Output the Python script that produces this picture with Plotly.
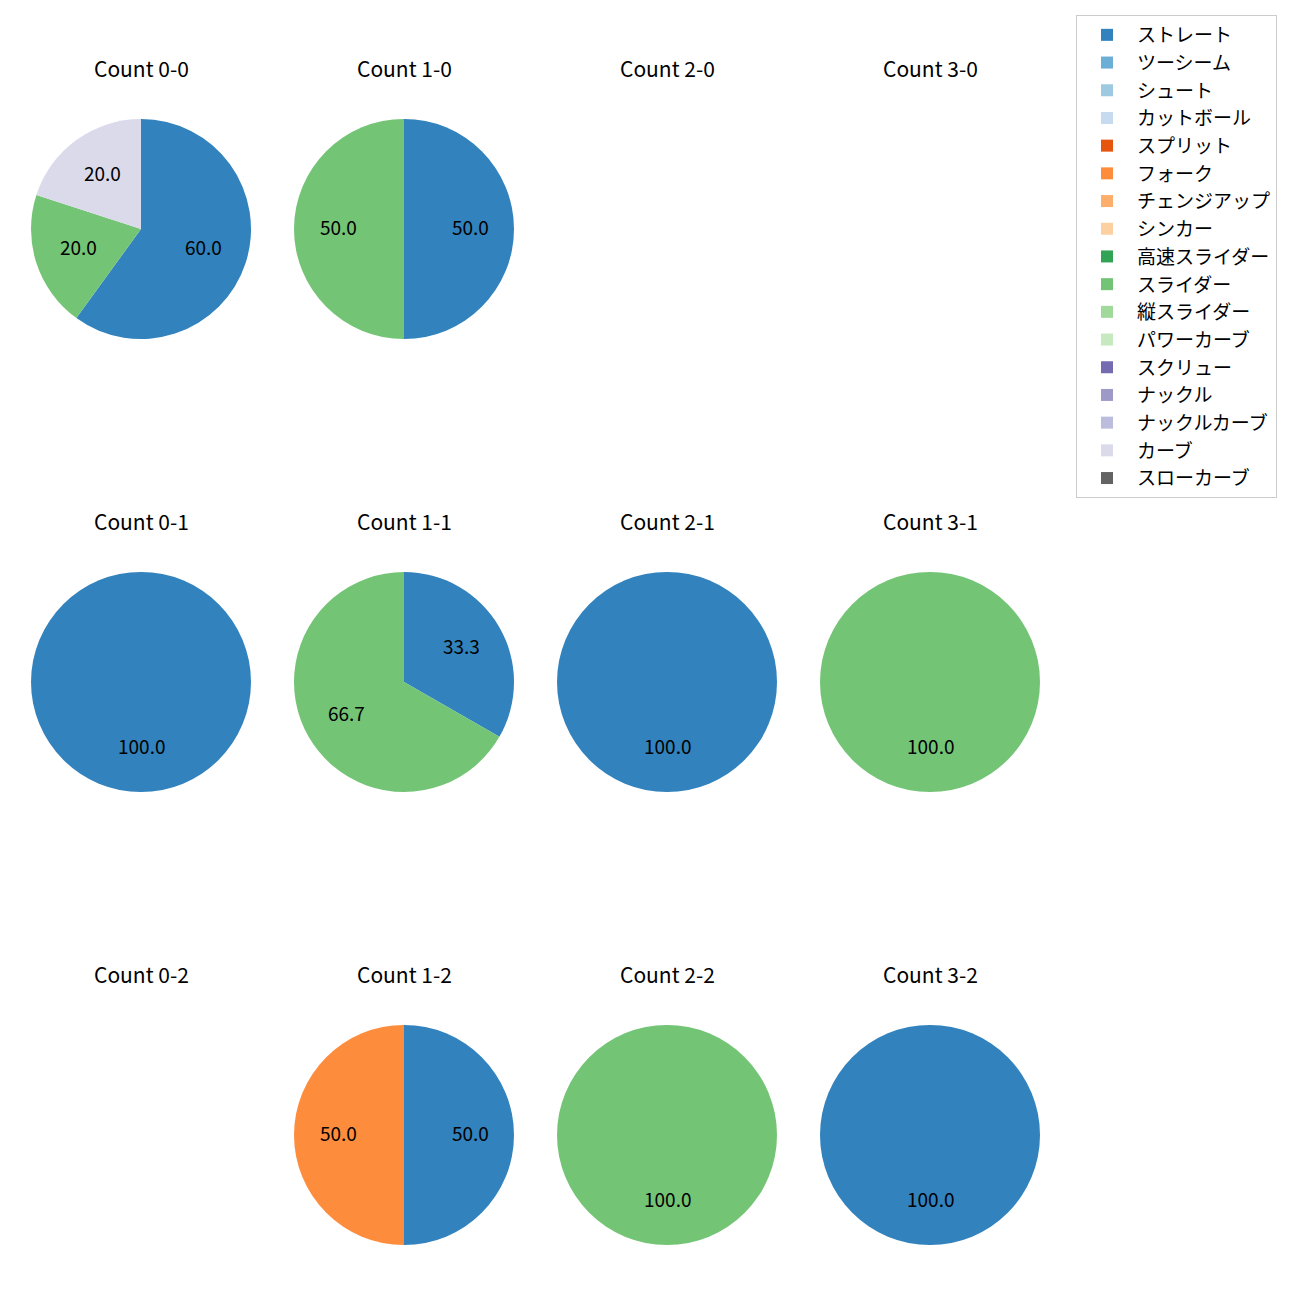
import math
import plotly.graph_objects as go

pitch_types = ["ストレート", "ツーシーム", "シュート", "カットボール", "スプリット", "フォーク",
               "チェンジアップ", "シンカー", "高速スライダー", "スライダー", "縦スライダー",
               "パワーカーブ", "スクリュー", "ナックル", "ナックルカーブ", "カーブ", "スローカーブ"]
colors = ["#3182bd", "#6baed6", "#9ecae1", "#c6dbef", "#e6550d", "#fd8d3c", "#fdae6b",
          "#fdd0a2", "#31a354", "#74c476", "#a1d99b", "#c7e9c0", "#756bb1", "#9e9ac8",
          "#bcbddc", "#dadaeb", "#636363"]

# counts (balls-strikes) -> share of each pitch type (%)
count_titles = [["Count 0-0", "Count 1-0", "Count 2-0", "Count 3-0"],
                ["Count 0-1", "Count 1-1", "Count 2-1", "Count 3-1"],
                ["Count 0-2", "Count 1-2", "Count 2-2", "Count 3-2"]]
count_data = {
    "Count 0-0": {"ストレート": 60.0, "スライダー": 20.0, "カーブ": 20.0},
    "Count 1-0": {"ストレート": 50.0, "スライダー": 50.0},
    "Count 2-0": {},
    "Count 3-0": {},
    "Count 0-1": {"ストレート": 100.0},
    "Count 1-1": {"ストレート": 33.3, "スライダー": 66.7},
    "Count 2-1": {"ストレート": 100.0},
    "Count 3-1": {"スライダー": 100.0},
    "Count 0-2": {},
    "Count 1-2": {"ストレート": 50.0, "フォーク": 50.0},
    "Count 2-2": {"スライダー": 100.0},
    "Count 3-2": {"ストレート": 100.0},
}

W = H = 1300
OFF = 8  # page body margin
col_cx = [141 - OFF, 404 - OFF, 667 - OFF, 930 - OFF]
row_cy = [229 - OFF, 682 - OFF, 1135 - OFF]
R = 110
FONT = "Noto Sans CJK JP"
TXT_SHIFT = 3  # visual centering of label text

fig = go.Figure()
annotations = []
first = True
for r, row in enumerate(count_titles):
    for c, title in enumerate(row):
        cx, cy = col_cx[c], row_cy[r]
        annotations.append(dict(x=cx / W, y=1 - (cy - 161) / H, xref="paper", yref="paper",
                                text=title, showarrow=False, xanchor="center", yanchor="middle",
                                font=dict(family=FONT, size=21, color="black")))
        d = count_data[title]
        if not d:
            continue
        if first:
            labels = pitch_types
            values = [d.get(p, 0) for p in pitch_types]
            first = False
        else:
            labels = [p for p in pitch_types if p in d]
            values = [d[p] for p in labels]
        cols = [colors[pitch_types.index(p)] for p in labels]
        fig.add_trace(go.Pie(
            labels=labels, values=values, sort=False, direction="clockwise", rotation=0,
            marker=dict(colors=cols, line=dict(width=0)), textinfo="none", hoverinfo="label+value",
            domain=dict(x=[(cx - R) / W, (cx + R) / W], y=[1 - (cy + R) / H, 1 - (cy - R) / H]),
            showlegend=True))
        # percentage labels at 0.6 radius along slice mid-angle
        total = sum(values)
        cum = 0.0
        for p, v in zip(labels, values):
            if v <= 0:
                continue
            mid = (cum + v / 2) / total
            cum += v
            theta = math.radians(90 - 360 * mid)
            x = cx + 0.6 * R * math.cos(theta)
            y = cy - 0.6 * R * math.sin(theta) - TXT_SHIFT
            annotations.append(dict(x=x / W, y=1 - y / H, xref="paper", yref="paper",
                                    text=f"{v:.1f}", showarrow=False, xanchor="center",
                                    yanchor="middle",
                                    font=dict(family=FONT, size=19, color="black")))

fig.update_layout(
    width=W, height=H, margin=dict(l=0, r=0, t=0, b=0),
    paper_bgcolor="white", plot_bgcolor="white",
    annotations=annotations,
    legend=dict(x=(1076 - OFF) / W, y=1 - (15 - OFF) / H, xanchor="left", yanchor="top",
                bordercolor="#cccccc", borderwidth=1, bgcolor="white", itemwidth=50,
                font=dict(family=FONT, size=19, color="black"), traceorder="normal"),
)
fig.write_html("out.html")
